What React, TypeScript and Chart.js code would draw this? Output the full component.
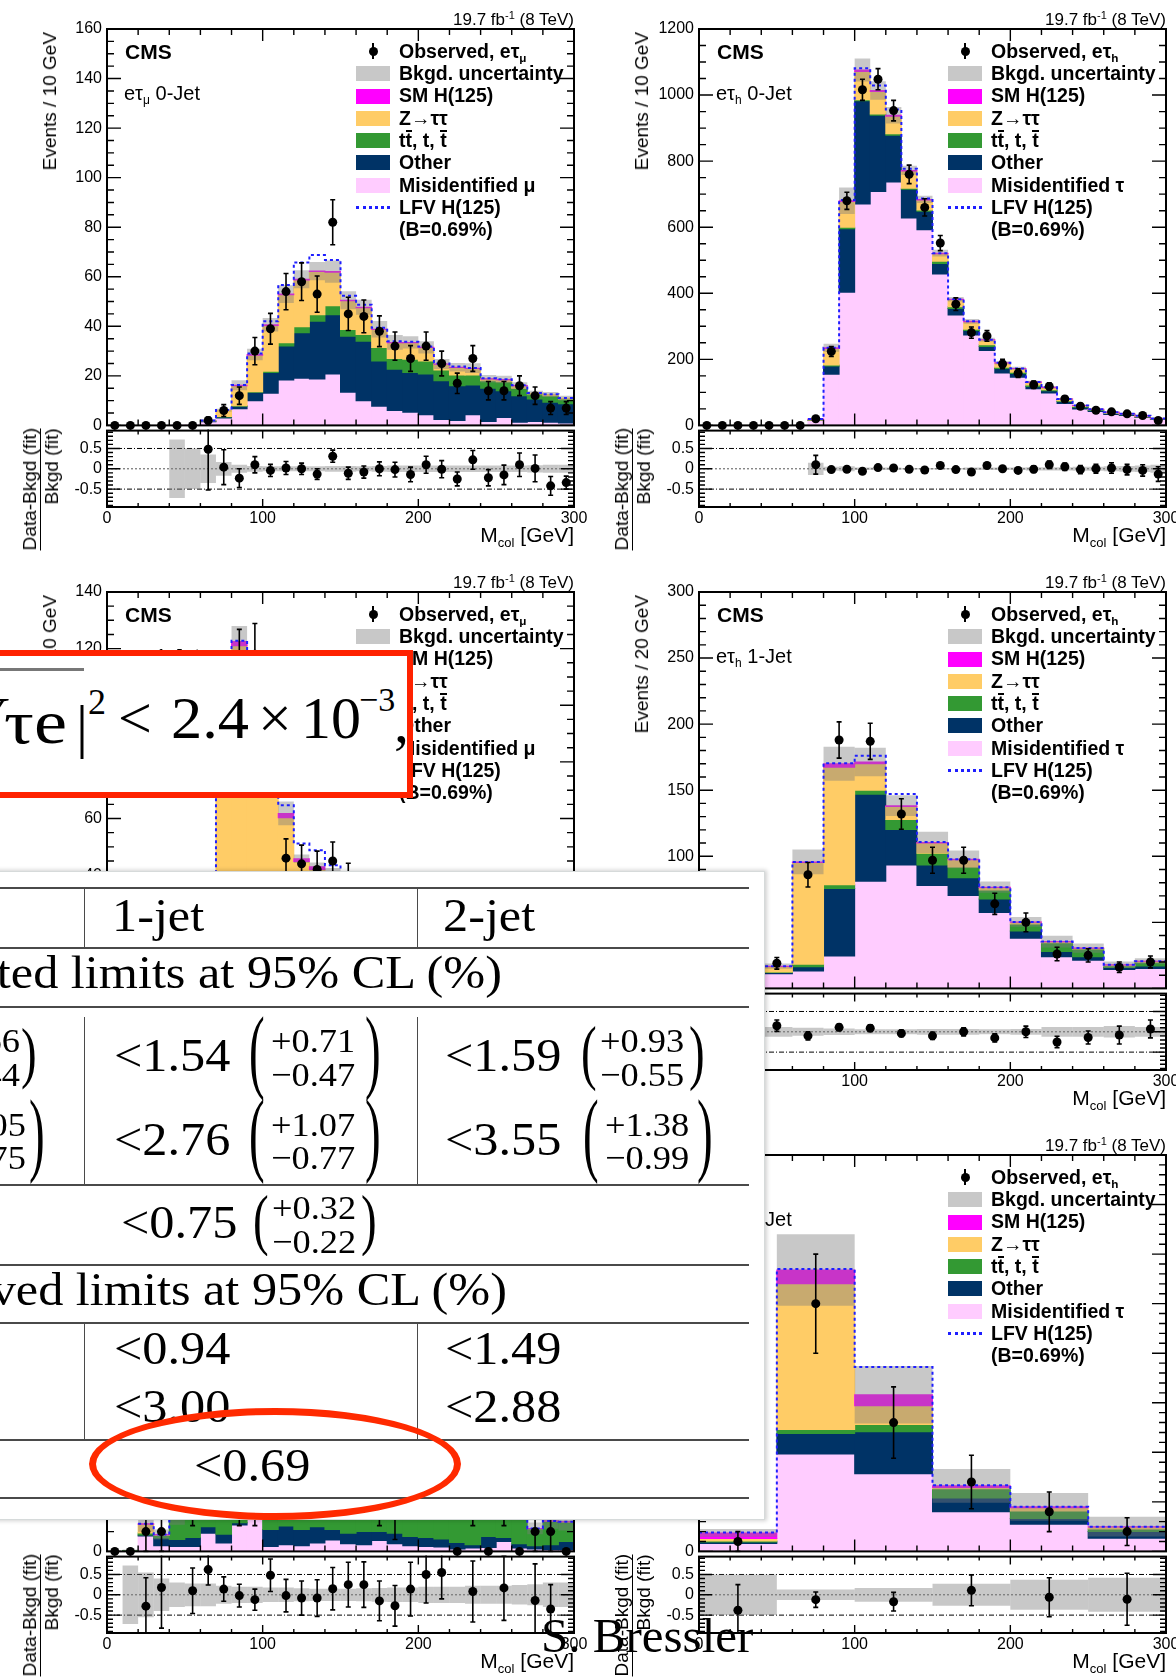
import React, { useEffect, useRef } from 'react';
import { Chart, registerables } from 'chart.js';

const SANS = '"Liberation Sans", Arial, Helvetica, sans-serif';
const SERIF = '"Liberation Serif", "Times New Roman", serif';

const C_MISID = '#ffccff';
const C_OTHER = '#003366';
const C_TT = '#339933';
const C_ZTT = '#ffcc66';
const C_SMH = '#ff00ff';
const C_UNC = 'rgba(125,125,125,0.42)';
const C_UNC_KEY = '#c8c8c8';
const C_LFV = '#1e1eff';

// tick labels
const massTicks = [0, 100, 200, 300];
const ratioTicks = [-0.5, 0, 0.5];

// ---------- e tau_mu, 0-jet (10 GeV bins) ----------
const mu0Misid = [0, 0, 0, 0, 0.05, 0.15, 1.5, 3, 6.7, 10, 13, 18.3, 19, 18.7, 20.7, 13.4, 10, 7.7, 6, 5.3, 4.3, 2.4, 2, 4.3, 1.6, 3.2, 1.3, 1.6, 1.3, 1];
const mu0Other = [0, 0, 0, 0, 0, 0, 0.3, 0.4, 1, 3.4, 8.4, 13.7, 18.4, 23.3, 24, 22.6, 24, 18.3, 16.7, 16.1, 16.4, 15.6, 14, 12, 13.4, 10.8, 10.7, 9.1, 8, 7.7];
const mu0Ttbar = [0, 0, 0, 0, 0, 0, 0.1, 0.2, 0.2, 0.2, 0.5, 1.4, 2.4, 2.7, 3.6, 2.7, 2.7, 5.4, 4.3, 5.3, 5.3, 4.4, 4.3, 4, 3, 3.6, 3, 2, 2.7, 2];
const mu0Ztt = [0, 0, 0, 0, 0, 0, 0.1, 2.5, 8.1, 14.7, 18.4, 19.3, 18.9, 17.4, 13.5, 11.6, 10.8, 7.3, 6.4, 6.7, 5.4, 2.3, 3.1, 2.7, 0.7, 0.8, 1, 0.3, 0.5, 0.3];
const mu0Smh = [0, 0, 0, 0, 0, 0, 0, 0, 0.2, 0.3, 0.3, 0.3, 0.3, 0.2, 0.3, 0.2, 0.2, 0.1, 0.1, 0.1, 0.1, 0.1, 0.1, 0.1, 0.1, 0.1, 0.1, 0, 0, 0];
const mu0Unc = [0, 0, 0, 0, 0.04, 0.07, 0.5, 0.6, 2, 2.3, 2.7, 3.6, 3.6, 3.7, 4.5, 3.6, 3, 3.3, 3, 2.5, 2.5, 2, 1.7, 2, 1.5, 1.5, 1.3, 1, 1, 1];
const mu0Lfv = [0, 0, 0, 0, 0, 0, 0, 0.1, 0.1, 0.4, 1.4, 3.7, 6.8, 6.5, 4.7, 1.8, 1, 0.6, 0.5, 0.3, 0.3, 0.2, 0.3, 0.1, 0.2, 0.1, 0.1, 0.1, 0.1, 0.1];
const mu0Data = [0, 0, 0, 0, 0, 0, 2, 6, 12, 30, 39, 54, 58, 53, 82, 45, 44, 38, 32, 27, 32, 25, 17, 27, 14, 14, 16, 12, 7, 7];
const mu0DataErr = [0, 0, 0, 0, 0, 0, 1.4, 2.4, 3.5, 5.5, 6.2, 7.3, 7.6, 7.3, 9.1, 6.7, 6.6, 6.2, 5.7, 5.2, 5.7, 5, 4.1, 5.2, 3.7, 3.7, 4, 3.5, 2.6, 2.6];
const mu0Ratio = [null, null, null, null, null, null, 0.48, 0.04, -0.23, 0.1, -0.04, 0.02, 0, -0.13, 0.31, -0.11, -0.08, 0, -0.02, -0.14, 0.1, -0.01, -0.25, 0.22, -0.22, -0.15, 0.1, 0.01, -0.42, -0.34];
const mu0RatioErr = [null, null, null, null, null, null, 1.0, 0.43, 0.23, 0.2, 0.15, 0.16, 0.14, 0.13, 0.15, 0.15, 0.15, 0.17, 0.18, 0.18, 0.21, 0.21, 0.17, 0.23, 0.2, 0.24, 0.29, 0.33, 0.23, 0.16];
const mu0Band = [0, 0, 0, 0, 0.72, 0.5, 0.35, 0.17, 0.1, 0.07, 0.06, 0.06, 0.06, 0.06, 0.07, 0.07, 0.06, 0.07, 0.08, 0.08, 0.08, 0.08, 0.08, 0.08, 0.08, 0.08, 0.08, 0.09, 0.1, 0.1];

// ---------- e tau_h, 0-jet (10 GeV bins) ----------
const h0Misid = [0, 0, 0, 0, 0, 0, 0, 15, 155, 403, 670, 708, 737, 628, 592, 458, 334, 274, 227, 159, 146, 111, 98, 66, 50, 42, 33, 30, 24, 18];
const h0Other = [0, 0, 0, 0, 0, 0, 0, 1, 25, 192, 313, 231, 141, 87, 56, 32, 20, 13, 12, 13, 11, 7, 7, 6, 5, 3, 3, 2, 2, 1.5];
const h0Ttbar = [0, 0, 0, 0, 0, 0, 0, 0.3, 3, 5, 3, 4, 5, 3, 4, 7, 5, 4, 5, 4, 4, 4, 3, 3, 2, 2, 1, 1, 0.5, 0.5];
const h0Ztt = [0, 0, 0, 0, 0, 0, 0, 2.5, 50, 78, 85, 68, 53, 52, 30, 23, 22, 23, 15, 13, 11, 9, 7, 5, 3, 2, 3, 2, 2.5, 1];
const h0Smh = [0, 0, 0, 0, 0, 0, 0, 0.2, 2, 2, 5, 3, 3, 2, 2, 1.5, 1, 1, 0.5, 0.5, 0.5, 0.3, 0.3, 0.2, 0.2, 0.1, 0.1, 0.1, 0.1, 0.1];
const h0Unc = [0, 0, 0, 0, 0, 0, 0, 3, 12, 40, 35, 28, 25, 14, 11, 10, 7, 7, 6, 5, 5, 4, 4, 3, 3, 2, 2, 2, 2, 2];
const h0Lfv = [0, 0, 0, 0, 0, 0, 0, 0, 0, 2, 5, 15, 17, 5, 3, 0, 0, 0, 0, 0, 0, 0, 0, 0, 0, 0, 0, 0, 0, 0];
const h0Data = [0, 0, 0, 0, 0, 0, 0, 20, 224, 680, 1016, 1048, 953, 760, 660, 552, 367, 281, 271, 186, 158, 123, 118, 80, 58, 46, 41, 35, 30, 15];
const h0DataErr = [0, 0, 0, 0, 0, 0, 0, 4.5, 15, 26, 32, 32, 31, 28, 26, 23, 19, 17, 16, 14, 13, 11, 11, 9, 8, 7, 6, 6, 5.5, 4];
const h0Ratio = [null, null, null, null, null, null, null, 0.1, -0.02, -0.01, -0.06, 0.03, 0.02, -0.01, -0.03, 0.08, -0.02, -0.08, 0.08, 0, -0.04, -0.01, 0.1, 0.05, -0.02, 0, 0.02, -0.02, -0.04, -0.13];
const h0RatioErr = [null, null, null, null, null, null, null, 0.23, 0.06, 0.04, 0.03, 0.03, 0.03, 0.03, 0.04, 0.04, 0.05, 0.06, 0.06, 0.06, 0.07, 0.08, 0.09, 0.09, 0.1, 0.11, 0.13, 0.13, 0.14, 0.18];
const h0Band = [0, 0, 0, 0, 0, 0, 0, 0.15, 0.05, 0.06, 0.03, 0.03, 0.03, 0.02, 0.02, 0.02, 0.02, 0.03, 0.03, 0.03, 0.03, 0.04, 0.04, 0.04, 0.05, 0.05, 0.06, 0.07, 0.08, 0.1];

// ---------- e tau_mu, 1-jet (10 GeV bins) ----------
const mu1Misid = [0, 0, 0, 0, 0, 0, 1, 3, 4, 5, 6, 6, 6, 5, 5, 4.5, 4, 3.5, 3, 3, 2.5, 2, 2, 1.5, 1.5, 1.2, 1, 1, 1, 0.8];
const mu1Other = [0, 0, 0, 0, 0, 0, 0.5, 2, 5, 8, 10, 10, 9, 9, 9, 8.5, 8, 7.5, 7, 6.5, 6, 5.5, 5, 4.5, 4, 3.8, 3.5, 3, 2.8, 2.5];
const mu1Ttbar = [0, 0, 0, 0, 0, 0, 0.5, 1, 2, 2, 2.5, 3, 3, 3, 3, 3.5, 3.5, 3.5, 3.5, 3.5, 3.5, 3.5, 3, 3, 3, 2.8, 2.7, 2.6, 2.4, 2.2];
const mu1Ztt = [0, 0, 0, 0, 0, 0, 8, 86, 110, 93.5, 70, 41.3, 26.8, 25, 22, 19, 17, 15, 13, 11, 9, 8, 7, 6, 5, 4.5, 4, 3.5, 3, 2.5];
const mu1Smh = [0, 0, 0, 0, 0, 0, 0.1, 1, 1.5, 1.5, 1.5, 1.5, 1, 1, 1, 0.8, 0.6, 0.5, 0.4, 0.3, 0.3, 0.2, 0.2, 0.2, 0.1, 0.1, 0.1, 0.1, 0.1, 0.1];
const mu1Unc = [0, 0, 0, 0, 0, 0, 1, 5, 5.5, 5, 4.5, 4.2, 1.5, 1.5, 2.5, 2.2, 2, 2, 1.8, 1.7, 1.5, 1.5, 1.3, 1.3, 1.2, 1.2, 1, 1, 1, 1];
const mu1Lfv = [0, 0, 0, 0, 0, 0, 0, 1, 0.3, 1, 2, 2.9, 5.4, 5.8, 3.5, 2, 1.2, 0.8, 0.5, 0.4, 0.3, 0.2, 0.2, 0.1, 0.1, 0.1, 0.1, 0, 0, 0];
const mu1Data = [0, 0, 0, 0, 0, 0, 9, 95, 116, 118, 88, 46, 44, 42, 45, 38, 34, 31, 27, 25, 20, 19, 17, 13, 12, 11, 9, 7, 8, 6];
const mu1DataErr = [0, 0, 0, 0, 0, 0, 3, 9.7, 10.8, 10.9, 9.4, 6.8, 6.6, 6.5, 6.7, 6.2, 5.8, 5.6, 5.2, 5, 4.5, 4.4, 4.1, 3.6, 3.5, 3.3, 3, 2.6, 2.8, 2.4];
const mu1Ratio = [null, null, null, null, null, null, -0.1, 0.02, -0.05, 0.07, -0.02, -0.26, -0.04, -0.02, 0.12, 0.03, -0.01, 0, -0.05, 0, -0.1, 0, 0, -0.14, -0.05, -0.02, -0.1, -0.2, 0.1, -0.1];
const mu1RatioErr = [null, null, null, null, null, null, 0.3, 0.1, 0.09, 0.1, 0.1, 0.11, 0.14, 0.15, 0.17, 0.17, 0.17, 0.18, 0.19, 0.2, 0.2, 0.23, 0.24, 0.25, 0.28, 0.29, 0.3, 0.3, 0.35, 0.35];
const mu1Band = [0, 0, 0, 0, 0, 0, 0.1, 0.05, 0.05, 0.05, 0.05, 0.07, 0.07, 0.06, 0.06, 0.06, 0.06, 0.07, 0.07, 0.07, 0.08, 0.08, 0.08, 0.09, 0.09, 0.1, 0.1, 0.1, 0.1, 0.1];

// ---------- e tau_h, 1-jet (20 GeV bins) ----------
const h1Misid = [0, 1.5, 11, 13.2, 24.5, 81, 93.3, 77.9, 70.4, 57.4, 38, 24, 21.3, 14.3, 15];
const h1Other = [0, 0.2, 1, 3.2, 51.2, 66, 26.9, 15.4, 13.4, 10.3, 5.4, 4, 2.7, 1.6, 2];
const h1Ttbar = [0, 0.1, 0.5, 1.9, 2.7, 2.9, 7.6, 8.9, 8.1, 6.7, 5.4, 6.5, 5.9, 1.3, 2.7];
const h1Ztt = [0, 0.5, 4, 76.9, 89, 20.1, 9.9, 7.8, 5.4, 1.9, 1.3, 0.8, 0.5, 0.6, 0.8];
const h1Smh = [0, 0.1, 0.3, 0.5, 2.6, 1.4, 0.6, 0.5, 0.4, 0.3, 0.2, 0.1, 0.1, 0.1, 0.1];
const h1Unc = [0, 0.5, 2, 9.4, 12.9, 10.8, 7.8, 8.1, 6.7, 4.3, 3.7, 4.5, 3.5, 2.5, 2.3];
const h1Lfv = [0, 0, 0, 0, 0.4, 4.6, 8.9, 0.3, 0, 0, 0, 0, 0, 0, 0];
const h1Data = [0, 2, 19, 86, 188, 187, 132, 97, 97, 64, 50, 26, 25, 16, 20];
const h1DataErr = [0, 1.4, 4.4, 9.3, 13.7, 13.7, 11.5, 9.8, 9.8, 8, 7.1, 5.1, 5, 4, 4.5];
const h1Ratio = [null, 0.1, 0.15, -0.1, 0.11, 0.09, -0.04, -0.1, 0, -0.15, 0, -0.25, -0.14, -0.08, 0.07];
const h1RatioErr = [null, 0.6, 0.14, 0.1, 0.08, 0.08, 0.08, 0.09, 0.1, 0.1, 0.14, 0.14, 0.16, 0.22, 0.22];
const h1Band = [0, 0.3, 0.12, 0.1, 0.08, 0.06, 0.06, 0.07, 0.07, 0.06, 0.07, 0.12, 0.12, 0.14, 0.12];

// ---------- e tau_mu, 2-jet (10 GeV bins) ----------
const mu2Misid = [0, 0.03, 0.78, 0.28, 0.25, 0.25, 0.92, 0.42, 1.33, 1.8, 0.25, 0.33, 0.28, 0.42, 0.58, 0.38, 0.33, 0.55, 0.38, 0.28, 0.25, 0.22, 0.12, 0.17, 0.2, 0.5, 0.17, 0.12, 0.08, 0.08];
const mu2Other = [0, 0.01, 0.05, 0.39, 0.35, 0.45, 0.33, 0.45, 0.12, 0.3, 0.85, 0.95, 0.82, 0.83, 0.52, 0.54, 0.67, 0.45, 0.54, 0.47, 0.45, 0.4, 0.33, 0.16, 0.55, 0.2, 0.21, 0.16, 0.25, 0.42];
const mu2Ttbar = [0, 0.01, 0.1, 0.15, 1.15, 1.95, 1.15, 2.5, 1.5, 1.2, 2.8, 2.65, 3.1, 2.95, 3.1, 2.95, 2.88, 2.43, 1.74, 2.68, 2.56, 2.52, 2.3, 2.41, 1.71, 1.82, 1.79, 0.86, 1.19, 0.98];
const mu2Ztt = [0, 0, 0.44, 0.02, 0.04, 0.06, 0.05, 0.1, 0.08, 0.07, 0.1, 0.1, 0.1, 0.1, 0.1, 0.09, 0.08, 0.07, 0.05, 0.05, 0.05, 0.04, 0.03, 0.03, 0.03, 0.03, 0.02, 0.01, 0.01, 0.01];
const mu2Smh = [0, 0, 0.02, 0.01, 0.01, 0.02, 0.02, 0.03, 0.03, 0.03, 0.05, 0.05, 0.05, 0.05, 0.05, 0.04, 0.04, 0.03, 0.03, 0.02, 0.02, 0.02, 0.02, 0.01, 0.01, 0.01, 0.01, 0.01, 0.01, 0.01];
const mu2Unc = [0, 0.04, 0.4, 0.25, 0.45, 0.6, 0.5, 0.7, 0.6, 0.6, 0.8, 0.8, 0.8, 0.8, 0.8, 0.75, 0.75, 0.7, 0.55, 0.7, 0.7, 0.7, 0.6, 0.6, 0.55, 0.55, 0.5, 0.3, 0.4, 0.45];
const mu2Lfv = [0, 0, 0, 0, 0, 0, 0, 0.05, 0.1, 0.2, 0.3, 0.35, 0.3, 0.2, 0.1, 0.05, 0.03, 0.02, 0, 0, 0, 0, 0, 0, 0, 0, 0, 0, 0, 0];
const mu2Data = [0, 0, 1, 1, 4, 3, 4, 4, 3, 3, 6, 4, 4, 4, 5, 5, 5, 3, 2, 4, 5, 5, 0, 3, 0, 3, 0, 1, 1, 0];
const mu2DataErr = [0, 0, 1, 1, 2, 1.7, 2, 2, 1.7, 1.7, 2.4, 2, 2, 2, 2.2, 2.2, 2.2, 1.7, 1.4, 2, 2.2, 2.2, 0, 1.7, 0, 1.7, 0, 1, 1, 0];
const mu2Ratio = [null, null, -0.28, 0.18, null, 0.1, 0.62, 0.14, -0.02, -0.12, 0.48, -0.02, -0.08, -0.08, 0.15, 0.25, 0.25, -0.15, -0.27, 0.14, 0.5, 0.55, null, 0.08, null, 0.17, null, -0.14, -0.35, null];
const mu2RatioErr = [null, null, 0.7, 1.0, null, 0.56, 0.38, 0.3, 0.28, 0.26, 0.4, 0.4, 0.42, 0.45, 0.52, 0.55, 0.56, 0.49, 0.5, 0.66, 0.7, 0.65, null, 0.75, null, 0.8, null, 0.9, 0.6, null];
const mu2Band = [0, 0.72, 0.55, 0.4, 0.3, 0.28, 0.28, 0.22, 0.2, 0.2, 0.18, 0.18, 0.16, 0.15, 0.15, 0.15, 0.16, 0.17, 0.18, 0.18, 0.2, 0.2, 0.2, 0.22, 0.22, 0.22, 0.24, 0.26, 0.3, 0.3];

// ---------- e tau_h, 2-jet (50 GeV bins) ----------
const h2Misid = [0.8, 9.83, 7.83, 4, 2.73, 1.33];
const h2Other = [0.15, 2.07, 4.24, 1.4, 0.6, 0.67];
const h2Ttbar = [0.1, 0.4, 0.73, 0.93, 0.74, 0.27];
const h2Ztt = [0.25, 14.7, 1.9, 0.12, 0.33, 0.2];
const h2Smh = [0.55, 1.4, 1.1, 0.17, 0.1, 0.03];
const h2Unc = [0.4, 3.6, 2.9, 1.7, 1.4, 1.0];
const h2Lfv = [0.05, 0.1, 2.8, 0.05, 0, 0];
const h2Data = [1, 25, 13, 7, 4, 2];
const h2DataErr = [1, 5, 3.6, 2.7, 2, 1.4];
const h2Ratio = [-0.38, -0.12, -0.17, 0.11, -0.06, -0.11];
const h2RatioErr = [0.63, 0.19, 0.23, 0.38, 0.48, 0.64];
const h2Band = [0.5, 0.13, 0.17, 0.27, 0.37, 0.42];

// frame, inward ticks, reference lines and error bars in the ROOT style
const rootFrame = {
  id: 'rootFrame',
  beforeDatasetsDraw(chart: any, _a: any, o: any) {
    if (!o || !o.refLines) return;
    const { ctx, chartArea: a, scales } = chart;
    ctx.save();
    for (const r of o.refLines) {
      const py = scales.y.getPixelForValue(r.v);
      ctx.beginPath();
      ctx.setLineDash(r.dash);
      ctx.strokeStyle = r.color;
      ctx.lineWidth = r.w;
      ctx.moveTo(a.left, py);
      ctx.lineTo(a.right, py);
      ctx.stroke();
    }
    ctx.restore();
  },
  afterDatasetsDraw(chart: any, _a: any, o: any) {
    if (!o || !o.errors) return;
    const { ctx, chartArea: a, scales } = chart;
    ctx.save();
    ctx.beginPath();
    ctx.rect(a.left, a.top - 1, a.right - a.left, a.bottom - a.top + 2);
    ctx.clip();
    ctx.strokeStyle = '#000';
    ctx.lineWidth = 1.6;
    for (const p of o.errors) {
      const px = scales.x.getPixelForValue(p.x);
      const y1 = scales.y.getPixelForValue(p.y - p.e);
      const y2 = scales.y.getPixelForValue(p.y + p.e);
      ctx.beginPath();
      ctx.moveTo(px, y1);
      ctx.lineTo(px, y2);
      ctx.moveTo(px - 2.5, y1);
      ctx.lineTo(px + 2.5, y1);
      ctx.moveTo(px - 2.5, y2);
      ctx.lineTo(px + 2.5, y2);
      ctx.stroke();
    }
    ctx.restore();
  },
  afterDraw(chart: any, _a: any, o: any) {
    if (!o || !o.xMajor) return;
    const { ctx, chartArea: a, scales } = chart;
    const xs = scales.x;
    const ys = scales.y;
    const isMajor = (v: number, step: number) => Math.abs(v / step - Math.round(v / step)) < 1e-6;
    ctx.save();
    ctx.strokeStyle = '#000';
    ctx.lineWidth = 1.4;
    ctx.beginPath();
    for (let k = Math.ceil(xs.min / o.xMinor - 1e-9); k * o.xMinor <= xs.max + 1e-9; k++) {
      const v = k * o.xMinor;
      const px = xs.getPixelForValue(v);
      const L = isMajor(v, o.xMajor) ? o.xLen[0] : o.xLen[1];
      ctx.moveTo(px, a.bottom);
      ctx.lineTo(px, a.bottom - L);
      ctx.moveTo(px, a.top);
      ctx.lineTo(px, a.top + L);
    }
    for (let k = Math.ceil(ys.min / o.yMinor - 1e-9); k * o.yMinor <= ys.max + 1e-9; k++) {
      const v = k * o.yMinor;
      const py = ys.getPixelForValue(v);
      const L = isMajor(v, o.yMajor) ? o.yLen[0] : o.yLen[1];
      ctx.moveTo(a.left, py);
      ctx.lineTo(a.left + L, py);
      ctx.moveTo(a.right, py);
      ctx.lineTo(a.right - L, py);
    }
    ctx.stroke();
    ctx.lineWidth = 2;
    ctx.strokeRect(a.left, a.top, a.right - a.left, a.bottom - a.top);
    ctx.restore();
  },
};

Chart.register(...registerables, rootFrame);

const COL_X = [107, 699];
const ROW_Y = [29, 592, 1155];
const FW = 467;
const FH = 397;
const RH = 81;

const PANELS = [
  { key: 'mu0', col: 0, row: 0, lep: 'μ', fake: 'μ', jet: '0-Jet', yTitle: 'Events / 10 GeV', yMax: 160, yStep: 20, yMinor: 5,
    d: { misid: mu0Misid, other: mu0Other, ttbar: mu0Ttbar, ztt: mu0Ztt, smh: mu0Smh, unc: mu0Unc, sig: mu0Lfv, data: mu0Data, dataErr: mu0DataErr, ratio: mu0Ratio, ratioErr: mu0RatioErr, band: mu0Band } },
  { key: 'h0', col: 1, row: 0, lep: 'h', fake: 'τ', jet: '0-Jet', yTitle: 'Events / 10 GeV', yMax: 1200, yStep: 200, yMinor: 50,
    d: { misid: h0Misid, other: h0Other, ttbar: h0Ttbar, ztt: h0Ztt, smh: h0Smh, unc: h0Unc, sig: h0Lfv, data: h0Data, dataErr: h0DataErr, ratio: h0Ratio, ratioErr: h0RatioErr, band: h0Band } },
  { key: 'mu1', col: 0, row: 1, lep: 'μ', fake: 'μ', jet: '1-Jet', yTitle: 'Events / 10 GeV', yMax: 140, yStep: 20, yMinor: 5,
    d: { misid: mu1Misid, other: mu1Other, ttbar: mu1Ttbar, ztt: mu1Ztt, smh: mu1Smh, unc: mu1Unc, sig: mu1Lfv, data: mu1Data, dataErr: mu1DataErr, ratio: mu1Ratio, ratioErr: mu1RatioErr, band: mu1Band } },
  { key: 'h1', col: 1, row: 1, lep: 'h', fake: 'τ', jet: '1-Jet', yTitle: 'Events / 20 GeV', yMax: 300, yStep: 50, yMinor: 10,
    d: { misid: h1Misid, other: h1Other, ttbar: h1Ttbar, ztt: h1Ztt, smh: h1Smh, unc: h1Unc, sig: h1Lfv, data: h1Data, dataErr: h1DataErr, ratio: h1Ratio, ratioErr: h1RatioErr, band: h1Band } },
  { key: 'mu2', col: 0, row: 2, lep: 'μ', fake: 'μ', jet: '2-Jet', yTitle: 'Events / 10 GeV', yMax: 20, yStep: 5, yMinor: 1,
    d: { misid: mu2Misid, other: mu2Other, ttbar: mu2Ttbar, ztt: mu2Ztt, smh: mu2Smh, unc: mu2Unc, sig: mu2Lfv, data: mu2Data, dataErr: mu2DataErr, ratio: mu2Ratio, ratioErr: mu2RatioErr, band: mu2Band } },
  { key: 'h2', col: 1, row: 2, lep: 'h', fake: 'τ', jet: '2-Jet', yTitle: 'Events / 50 GeV', yMax: 40, yStep: 5, yMinor: 1,
    d: { misid: h2Misid, other: h2Other, ttbar: h2Ttbar, ztt: h2Ztt, smh: h2Smh, unc: h2Unc, sig: h2Lfv, data: h2Data, dataErr: h2DataErr, ratio: h2Ratio, ratioErr: h2RatioErr, band: h2Band } },
];

const solidBar = { grouped: false, barPercentage: 1, categoryPercentage: 1, borderWidth: 0, inflateAmount: 0.5 };
const glassBar = { grouped: false, barPercentage: 1, categoryPercentage: 1, borderWidth: 0, inflateAmount: 0 };
const tickFont = { family: 'Liberation Sans', size: 16 };

function xScale(display: boolean) {
  const s: any = {
    type: 'linear', min: 0, max: 300, offset: false, display,
    afterBuildTicks: (sc: any) => { sc.ticks = massTicks.map((v) => ({ value: v })); },
    ticks: { font: tickFont, color: '#000', padding: 2, autoSkip: false, maxRotation: 0, callback: (v: any) => String(v) },
    grid: { display: false, drawTicks: false },
    border: { display: false },
  };
  if (display) s.afterFit = (sc: any) => { sc.height = 30; };
  return s;
}

function mainConfig(p: any) {
  const d = p.d;
  const n = d.data.length;
  const w = 300 / n;
  const ctr = (i: number) => (i + 0.5) * w;
  const parts = [d.misid, d.other, d.ttbar, d.ztt, d.smh];
  const cols = [C_MISID, C_OTHER, C_TT, C_ZTT, C_SMH];
  const tot = new Array(n).fill(0);
  const datasets: any[] = [];
  parts.forEach((arr: number[], k: number) => {
    const pts: any[] = [];
    arr.forEach((v, i) => {
      if (v > 0) pts.push({ x: ctr(i), y: [tot[i], tot[i] + v] });
      tot[i] += v;
    });
    datasets.push({ type: 'bar', data: pts, backgroundColor: cols[k], order: 10 - k, ...solidBar });
  });
  const unc: any[] = [];
  d.unc.forEach((u: number, i: number) => {
    if (u > 0) unc.push({ x: ctr(i), y: [Math.max(0, tot[i] - u), tot[i] + u] });
  });
  datasets.push({ type: 'bar', data: unc, backgroundColor: C_UNC, order: 3, ...glassBar });
  const lfv: any[] = [];
  tot.forEach((t: number, i: number) => {
    if (t > p.yMax / 150) {
      const v = t + d.sig[i];
      lfv.push({ x: i * w, y: v }, { x: (i + 1) * w, y: v });
    }
  });
  datasets.push({ type: 'line', data: lfv, borderColor: C_LFV, borderWidth: 2, borderDash: [3, 3], pointRadius: 0, fill: false, tension: 0, order: 2 });
  datasets.push({ type: 'scatter', data: d.data.map((v: number, i: number) => ({ x: ctr(i), y: v })), backgroundColor: '#000', borderWidth: 0, pointRadius: 4.5, order: 1, clip: false });
  const errors = d.data.map((v: number, i: number) => ({ x: ctr(i), y: v, e: d.dataErr[i] })).filter((e: any) => e.e > 0);
  return {
    type: 'bar',
    data: { datasets },
    options: {
      responsive: false, maintainAspectRatio: false, animation: false, devicePixelRatio: 1, events: [],
      layout: { padding: { left: 0, right: 20, top: 20, bottom: 14 }, autoPadding: false },
      scales: {
        x: xScale(false),
        y: {
          type: 'linear', min: 0, max: p.yMax,
          afterBuildTicks: (s: any) => {
            const t: any[] = [];
            for (let k = 0; k * p.yStep <= p.yMax + 1e-9; k++) t.push({ value: k * p.yStep });
            s.ticks = t;
          },
          ticks: { font: tickFont, color: '#000', padding: 5, callback: (v: any) => String(v) },
          grid: { display: false, drawTicks: false },
          border: { display: false },
          afterFit: (s: any) => { s.width = 70; },
        },
      },
      plugins: {
        legend: { display: false },
        tooltip: { enabled: false },
        rootFrame: { xMajor: 100, xMinor: 20, yMajor: p.yStep, yMinor: p.yMinor, xLen: [12, 6], yLen: [14, 7], errors },
      },
    },
  };
}

function ratioConfig(p: any) {
  const d = p.d;
  const n = d.data.length;
  const w = 300 / n;
  const ctr = (i: number) => (i + 0.5) * w;
  const band: any[] = [];
  d.band.forEach((b: number, i: number) => { if (b > 0) band.push({ x: ctr(i), y: [-b, b] }); });
  const pts: any[] = [];
  const errors: any[] = [];
  d.ratio.forEach((r: number | null, i: number) => {
    if (r === null) return;
    pts.push({ x: ctr(i), y: r });
    const e = d.ratioErr[i];
    if (e) errors.push({ x: ctr(i), y: r, e });
  });
  return {
    type: 'bar',
    data: {
      datasets: [
        { type: 'bar', data: band, backgroundColor: C_UNC, order: 5, ...glassBar },
        { type: 'scatter', data: pts, backgroundColor: '#000', borderWidth: 0, pointRadius: 4.5, order: 1, clip: false },
      ],
    },
    options: {
      responsive: false, maintainAspectRatio: false, animation: false, devicePixelRatio: 1, events: [],
      layout: { padding: { left: 0, right: 20, top: 10, bottom: 0 }, autoPadding: false },
      scales: {
        x: xScale(true),
        y: {
          type: 'linear', min: -0.94, max: 0.94,
          afterBuildTicks: (s: any) => { s.ticks = ratioTicks.map((v) => ({ value: v })); },
          ticks: { font: tickFont, color: '#000', padding: 5, callback: (v: any) => String(v) },
          grid: { display: false, drawTicks: false },
          border: { display: false },
          afterFit: (s: any) => { s.width = 70; },
        },
      },
      plugins: {
        legend: { display: false },
        tooltip: { enabled: false },
        rootFrame: {
          xMajor: 100, xMinor: 20, yMajor: 0.5, yMinor: 0.1, xLen: [8, 4], yLen: [13, 6], errors,
          refLines: [
            { v: 0.5, dash: [5, 2, 1, 2], color: '#000', w: 1 },
            { v: -0.5, dash: [5, 2, 1, 2], color: '#000', w: 1 },
            { v: 0, dash: [2, 2], color: '#555', w: 1 },
          ],
        },
      },
    },
  };
}

function Txt({ x, y, size, bold = false, right = false, family = SANS, children, style = {} }: any) {
  return (
    <div style={{ position: 'absolute', left: x, top: y - size * 0.6, fontSize: size, lineHeight: `${size * 1.2}px`, fontFamily: family, fontWeight: bold ? 'bold' : 'normal', whiteSpace: 'nowrap', color: '#000', transform: right ? 'translateX(-100%)' : undefined, ...style }}>
      {children}
    </div>
  );
}

// serif text placed by its baseline; sx widens the glyphs horizontally
function Ser({ x, base, size, children, right = false, italic = false, sx = 1 }: any) {
  const tr = right ? `translateX(-100%) scaleX(${sx})` : `scaleX(${sx})`;
  return (
    <div style={{ position: 'absolute', left: x, top: base - 0.8375 * size, fontSize: size, lineHeight: `${size}px`, fontFamily: SERIF, fontStyle: italic ? 'italic' : 'normal', whiteSpace: 'nowrap', color: '#000', transform: tr, transformOrigin: right ? '100% 50%' : '0% 50%' }}>
      {children}
    </div>
  );
}

function Paren({ x, cy, s, ch, size = 47 }: any) {
  return (
    <div style={{ position: 'absolute', left: x, top: cy - 0.6 * size, fontSize: size, lineHeight: `${size}px`, fontFamily: SERIF, color: '#000', transform: `scaleY(${s})`, transformOrigin: `50% ${0.6 * size}px` }}>
      {ch}
    </div>
  );
}

const sub = { fontSize: '0.6em', verticalAlign: '-0.3em' };
const bar = { display: 'inline-block', borderTop: '2px solid #000', lineHeight: '0.72em', paddingTop: 1 };

function Legend({ x0, y0, lep, fake }: any) {
  const cy = (k: number) => y0 + 22.4 + k * 22.3;
  const bx = x0 + 249;
  const tx = x0 + 292;
  const box = (k: number, color: string) => (
    <div key={'b' + k} style={{ position: 'absolute', left: bx, top: cy(k) - 7.5, width: 34, height: 15, background: color }} />
  );
  const lab = (k: number, content: any) => (
    <Txt key={'t' + k} x={tx} y={cy(k)} size={19.5} bold>{content}</Txt>
  );
  return (
    <>
      <div style={{ position: 'absolute', left: x0 + 261.5, top: cy(0) - 4.5, width: 9, height: 9, borderRadius: '50%', background: '#000' }} />
      <div style={{ position: 'absolute', left: x0 + 265.3, top: cy(0) - 8, width: 1.5, height: 16, background: '#000' }} />
      {lab(0, <>Observed, eτ<span style={sub}>{lep}</span></>)}
      {box(1, C_UNC_KEY)}
      {lab(1, 'Bkgd. uncertainty')}
      {box(2, C_SMH)}
      {lab(2, 'SM H(125)')}
      {box(3, C_ZTT)}
      {lab(3, 'Z→ττ')}
      {box(4, C_TT)}
      {lab(4, <>t<span style={bar}>t</span>, t, <span style={bar}>t</span></>)}
      {box(5, C_OTHER)}
      {lab(5, 'Other')}
      {box(6, C_MISID)}
      {lab(6, 'Misidentified ' + fake)}
      <div style={{ position: 'absolute', left: bx, top: cy(7) - 1.5, width: 34, height: 0, borderTop: `3px dotted ${C_LFV}` }} />
      {lab(7, 'LFV H(125)')}
      {lab(8, '(B=0.69%)')}
    </>
  );
}

function Panel({ p }: any) {
  const mainRef = useRef<HTMLCanvasElement>(null);
  const ratioRef = useRef<HTMLCanvasElement>(null);
  const x0 = COL_X[p.col];
  const y0 = ROW_Y[p.row];
  const rTop = y0 + FH;
  const rBot = rTop + RH;
  useEffect(() => {
    const c1 = new Chart(mainRef.current as any, mainConfig(p) as any);
    const c2 = new Chart(ratioRef.current as any, ratioConfig(p) as any);
    return () => { c1.destroy(); c2.destroy(); };
  }, []);
  return (
    <>
      <canvas ref={mainRef} width={FW + 90} height={FH + 34} style={{ position: 'absolute', left: x0 - 70, top: y0 - 20 }} />
      <canvas ref={ratioRef} width={FW + 90} height={RH + 40} style={{ position: 'absolute', left: x0 - 70, top: rTop - 10 }} />
      <Txt x={x0 + FW} y={y0 - 14} size={17} right>
        19.7 fb<span style={{ fontSize: 11, verticalAlign: '0.55em' }}>-1</span> (8 TeV)
      </Txt>
      <Txt x={x0 + 18} y={y0 + 22.5} size={21} bold>CMS</Txt>
      <Txt x={x0 + 17} y={y0 + 64} size={20}>eτ<span style={sub}>{p.lep}</span> {p.jet}</Txt>
      <Legend x0={x0} y0={y0} lep={p.lep} fake={p.fake} />
      <div style={{ position: 'absolute', left: x0 - 69, top: y0 + 3, writingMode: 'vertical-rl', transform: 'rotate(180deg)', fontSize: 19, lineHeight: '24px', fontFamily: SANS, whiteSpace: 'nowrap', color: '#000' }}>
        {p.yTitle}
      </div>
      <div style={{ position: 'absolute', left: x0 - 88, top: rTop + 2, writingMode: 'vertical-rl', transform: 'rotate(180deg)', fontSize: 19, lineHeight: '21px', fontFamily: SANS, whiteSpace: 'nowrap', color: '#000' }}>
        <div style={{ textAlign: 'end', borderBlockEnd: '1.5px solid #000' }}>Data-Bkgd (fit)</div>
        <div style={{ textAlign: 'end' }}>Bkgd (fit)</div>
      </div>
      <Txt x={x0 + FW} y={rBot + 28} size={21} right>
        M<span style={{ fontSize: 13, verticalAlign: '-0.35em' }}>col</span> [GeV]
      </Txt>
    </>
  );
}

function Formula() {
  return (
    <>
      <div style={{ position: 'absolute', left: -20, top: 650, width: 433, height: 148, border: '6px solid #ff2200', background: '#fff', boxSizing: 'border-box' }} />
      <div style={{ position: 'absolute', left: 0, top: 667.5, width: 84, height: 3, background: '#777' }} />
      <Ser x={-30} base={738} size={60} italic>Y</Ser>
      <Ser x={4} base={743} size={62} sx={1.2}>τe</Ser>
      <Ser x={76} base={746} size={60}>|</Ser>
      <Ser x={88} base={714} size={36}>2</Ser>
      <Ser x={118} base={738} size={60}>{'<'}</Ser>
      <Ser x={171} base={738} size={60} sx={1.04}>2.4</Ser>
      <Ser x={258} base={738} size={60}>×</Ser>
      <Ser x={301} base={738} size={60}>10</Ser>
      <Ser x={359} base={711} size={34}>{'\u22123'}</Ser>
      <Ser x={394} base={742} size={60}>,</Ser>
    </>
  );
}

function LimitsTable() {
  const M = '\u2212';
  const K = 1.07;
  const rules = [888, 948, 1007, 1185, 1265, 1323, 1440, 1498];
  const vsegs = [[888, 948], [1017, 1185], [1323, 1440]];
  return (
    <>
      <div style={{ position: 'absolute', left: -10, top: 871, width: 775, height: 649, background: '#fff', border: '1px solid #d6dada', boxShadow: '1px 0 4px 1px rgba(0,0,0,0.18)', boxSizing: 'border-box' }} />
      {rules.map((y) => (
        <div key={'r' + y} style={{ position: 'absolute', left: 0, top: y - 1, width: 749, height: 2, background: '#4a4a4a' }} />
      ))}
      {[84.5, 417.3].map((x) => vsegs.map(([a, b]) => (
        <div key={'v' + x + a} style={{ position: 'absolute', left: x - 0.75, top: a, width: 1.5, height: b - a, background: '#4a4a4a' }} />
      )))}
      <Ser x={112} base={931} size={47} sx={K}>1-jet</Ser>
      <Ser x={443} base={931} size={47} sx={K}>2-jet</Ser>
      <Ser x={502} base={988} size={47} right sx={K}>Expected limits at 95% CL (%)</Ser>

      <Ser x={20} base={1052} size={34} right sx={K}>+0.66</Ser>
      <Ser x={20} base={1086} size={34} right sx={K}>{M}0.44</Ser>
      <Paren x={21} cy={1059} s={1.45} ch=")" />
      <Ser x={114} base={1071} size={47} sx={K}>{'<1.54'}</Ser>
      <Paren x={249} cy={1059} s={2.0} ch="(" />
      <Ser x={271} base={1052} size={34} sx={K}>+0.71</Ser>
      <Ser x={271} base={1086} size={34} sx={K}>{M}0.47</Ser>
      <Paren x={365} cy={1059} s={2.0} ch=")" />
      <Ser x={445} base={1071} size={47} sx={K}>{'<1.59'}</Ser>
      <Paren x={581} cy={1059} s={1.55} ch="(" />
      <Ser x={600} base={1052} size={34} sx={K}>+0.93</Ser>
      <Ser x={600} base={1086} size={34} sx={K}>{M}0.55</Ser>
      <Paren x={689} cy={1059} s={1.55} ch=")" />

      <Ser x={26} base={1136} size={34} right sx={K}>+1.05</Ser>
      <Ser x={26} base={1169} size={34} right sx={K}>{M}0.75</Ser>
      <Paren x={29} cy={1142} s={2.0} ch=")" />
      <Ser x={114} base={1155} size={47} sx={K}>{'<2.76'}</Ser>
      <Paren x={249} cy={1142} s={2.0} ch="(" />
      <Ser x={271} base={1136} size={34} sx={K}>+1.07</Ser>
      <Ser x={271} base={1169} size={34} sx={K}>{M}0.77</Ser>
      <Paren x={365} cy={1142} s={2.0} ch=")" />
      <Ser x={445} base={1155} size={47} sx={K}>{'<3.55'}</Ser>
      <Paren x={583} cy={1142} s={2.0} ch="(" />
      <Ser x={605} base={1136} size={34} sx={K}>+1.38</Ser>
      <Ser x={605} base={1169} size={34} sx={K}>{M}0.99</Ser>
      <Paren x={697} cy={1142} s={2.0} ch=")" />

      <Ser x={121} base={1238} size={47} sx={K}>{'<0.75'}</Ser>
      <Paren x={253} cy={1226} s={1.42} ch="(" />
      <Ser x={272} base={1219} size={34} sx={K}>+0.32</Ser>
      <Ser x={272} base={1253} size={34} sx={K}>{M}0.22</Ser>
      <Paren x={361} cy={1226} s={1.42} ch=")" />

      <Ser x={507} base={1305} size={47} right sx={K}>Observed limits at 95% CL (%)</Ser>
      <Ser x={114} base={1364} size={47} sx={K}>{'<0.94'}</Ser>
      <Ser x={445} base={1364} size={47} sx={K}>{'<1.49'}</Ser>
      <Ser x={114} base={1422} size={47} sx={K}>{'<3.00'}</Ser>
      <Ser x={445} base={1422} size={47} sx={K}>{'<2.88'}</Ser>
      <Ser x={194} base={1481} size={47} sx={K}>{'<0.69'}</Ser>
    </>
  );
}

export default function App() {
  return (
    <div style={{ position: 'absolute', left: 0, top: 0, width: 1176, height: 1678, overflow: 'hidden', background: '#fff' }}>
      {PANELS.map((p) => <Panel key={p.key} p={p} />)}
      <Formula />
      <LimitsTable />
      <div style={{ position: 'absolute', left: 89, top: 1408, width: 372, height: 112, border: '7px solid #ff2a00', borderRadius: '50%', boxSizing: 'border-box' }} />
      <Ser x={541} base={1652} size={49}>S. Bressler</Ser>
    </div>
  );
}
